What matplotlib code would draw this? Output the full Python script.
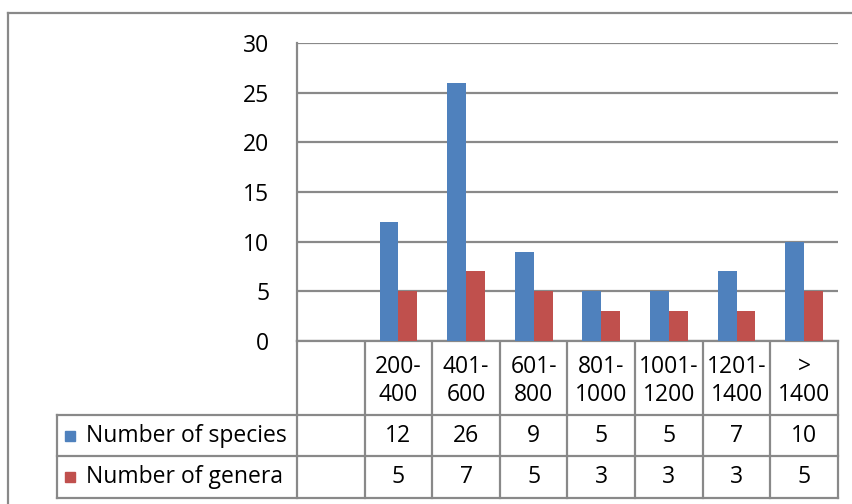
import matplotlib.pyplot as plt
import numpy as np

categories = ['', '200-\n400', '401-\n600', '601-\n800', '801-\n1000', '1001-\n1200', '1201-\n1400', '>\n1400']
species = [None, 12, 26, 9, 5, 5, 7, 10]
genera = [None, 5, 7, 5, 3, 3, 3, 5]
series_names = ['Number of species', 'Number of genera']
colors = ['#4F81BD', '#C0504D']
yticks = [0, 5, 10, 15, 20, 25, 30]

plt.rcParams['font.family'] = ['Open Sans', 'DejaVu Sans']
fs = 16.5
W, H = 853, 504
fig = plt.figure(figsize=(W / 100, H / 100), dpi=100)
grid_c = '#898989'

# plot area in pixels
px_l, px_r, px_t, px_b = 297, 838, 43, 341
ax = fig.add_axes([px_l / W, 1 - px_b / H, (px_r - px_l) / W, (px_b - px_t) / H])
x = np.arange(len(categories))
bw = 0.28
sp = [np.nan if v is None else v for v in species]
ge = [np.nan if v is None else v for v in genera]
ax.bar(x - bw / 2, sp, bw, color=colors[0], zorder=3)
ax.bar(x + bw / 2, ge, bw, color=colors[1], zorder=3)
ax.set_xlim(-0.5, len(categories) - 0.5)
ax.set_ylim(0, 30)
ax.set_yticks(yticks)
ax.set_xticks([])
ax.tick_params(axis='y', length=0, pad=20, labelsize=fs)
ax.grid(axis='y', color=grid_c, linewidth=1.6, zorder=0)
for s in ['top', 'right']:
    ax.spines[s].set_visible(False)
for s in ['left', 'bottom']:
    ax.spines[s].set_color(grid_c)
    ax.spines[s].set_linewidth(1.6)

# data table below, pixel coordinates
tx = fig.add_axes([0, 0, 1, 1], zorder=-1)
tx.set_xlim(0, W)
tx.set_ylim(H, 0)
tx.axis('off')
cw = (px_r - px_l) / len(categories)
edges = [px_l + i * cw for i in range(len(categories) + 1)]
row_y = [px_b, 415, 456, 498]
tbl_l = 57
lw = 1.6
# outer chart border
tx.plot([8, W], [13, 13], color=grid_c, lw=lw)
tx.plot([8, 8], [13, H], color=grid_c, lw=lw)
for e in edges:
    tx.plot([e, e], [row_y[0], row_y[-1]], color=grid_c, lw=lw)
tx.plot([tbl_l, tbl_l], [row_y[1], row_y[-1]], color=grid_c, lw=lw)
for yy in row_y[1:]:
    tx.plot([tbl_l, px_r], [yy, yy], color=grid_c, lw=lw)

for i, c in enumerate(categories):
    cx = (edges[i] + edges[i + 1]) / 2
    tx.text(cx, (row_y[0] + row_y[1]) / 2 + 3, c, ha='center', va='center',
            fontsize=fs, linespacing=1.2)
rows = [species, genera]
for r, (name, vals, col) in enumerate(zip(series_names, rows, colors)):
    cy = (row_y[r + 1] + row_y[r + 2]) / 2
    tx.add_patch(plt.Rectangle((65, cy - 5), 10, 10, color=col))
    tx.text(86, cy, name, ha='left', va='center', fontsize=fs)
    for i, v in enumerate(vals):
        if v is None:
            continue
        cx = (edges[i] + edges[i + 1]) / 2
        tx.text(cx, cy, str(v), ha='center', va='center', fontsize=fs)

fig.savefig('out.png', dpi=100)
